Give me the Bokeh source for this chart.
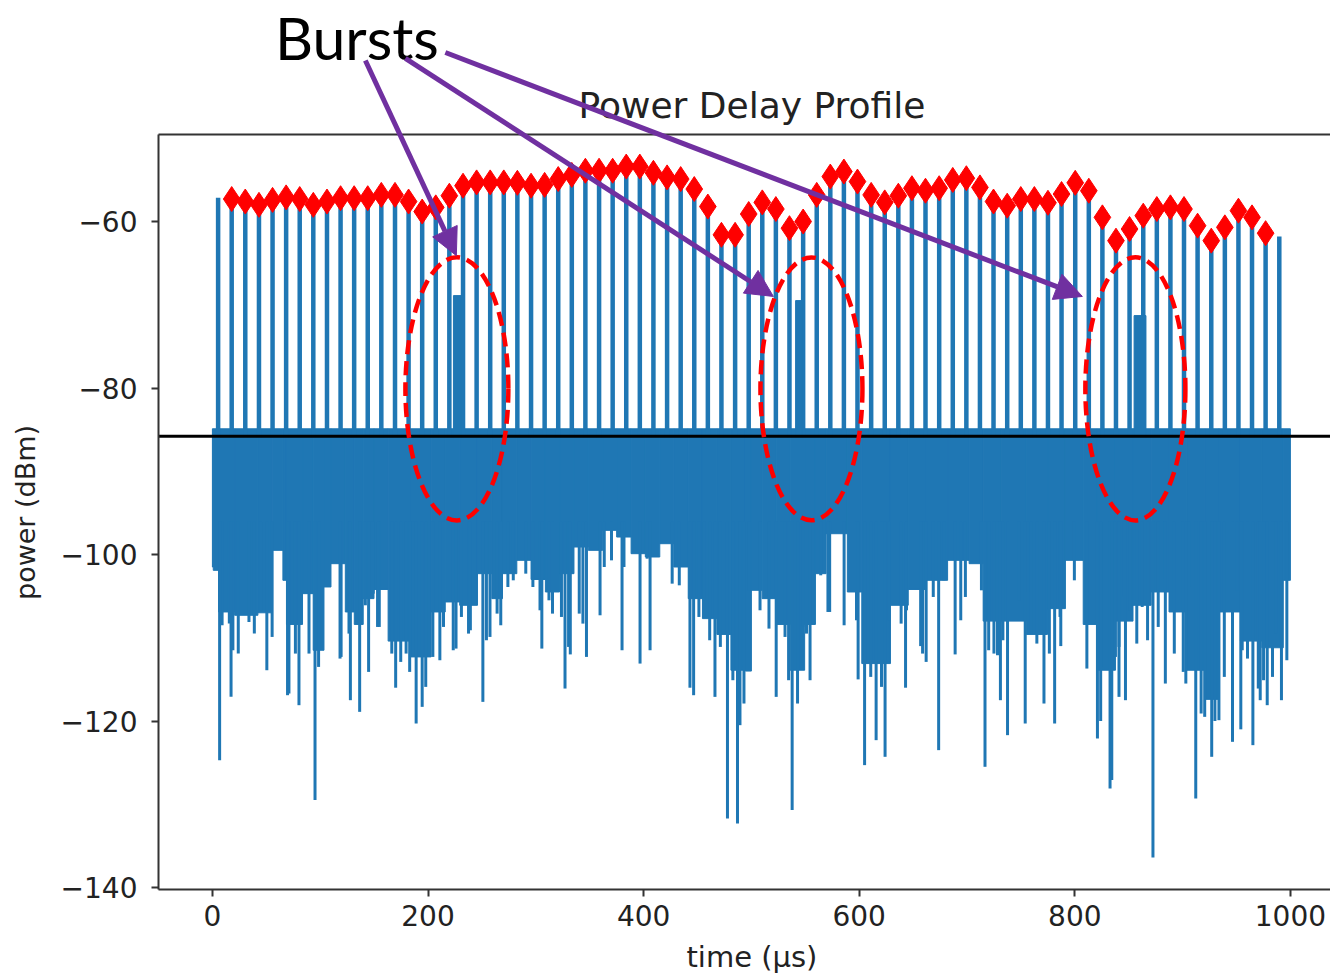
import math
from bokeh.plotting import figure
from bokeh.models import Arrow, NormalHead, Label, FixedTicker, ColumnDataSource
from bokeh.embed import file_html
from bokeh.resources import INLINE

# ---------------- data ----------------
stem_t = [5.3, 17.9, 30.5, 43.2, 55.8, 68.4, 81.0, 93.6, 106.3, 118.9,
          131.5, 144.1, 156.7, 169.4, 182.0, 194.6, 207.2, 219.8, 232.5, 245.1,
          257.7, 270.3, 282.9, 295.6, 308.2, 320.8, 333.4, 346.0, 358.7, 371.3,
          383.9, 396.5, 409.1, 421.8, 434.4, 447.0, 459.6, 472.2, 484.9, 497.5,
          510.1, 522.7, 535.3, 548.0, 560.6, 573.2, 585.8, 598.4, 611.1, 623.7,
          636.3, 648.9, 661.5, 674.2, 686.8, 699.4, 712.0, 724.6, 737.3, 749.9,
          762.5, 775.1, 787.7, 800.4, 813.0, 825.6, 838.2, 850.8, 863.5, 876.1,
          888.7, 901.3, 913.9, 926.6, 939.2, 951.8, 964.4, 977.0, 989.7]
stem_dbm = [-57.15, -57.3, -57.6, -58.0, -57.4, -57.1, -57.3, -58.0, -57.6, -57.2,
            -57.2, -57.2, -56.8, -56.8, -57.6, -58.8, -58.3, -56.9, -55.7, -55.3,
            -55.3, -55.3, -55.35, -55.7, -55.6, -54.9, -54.4, -53.9, -53.9, -53.9,
            -53.4, -53.4, -54.15, -54.7, -54.9, -56.1, -58.2, -61.6, -61.6, -59.1,
            -57.7, -58.5, -60.8, -60.0, -56.8, -54.6, -54.0, -55.2, -56.8, -57.7,
            -56.9, -56.0, -56.3, -56.0, -55.0, -54.8, -55.9, -57.6, -58.1, -57.3,
            -57.3, -57.75, -56.7, -55.35, -56.3, -59.5, -62.3, -60.9, -59.3, -58.5,
            -58.3, -58.5, -60.5, -62.3, -60.7, -58.7, -59.5, -61.4, -61.8]

# noise floor: blocks (start, end, lower edge of the solid part)
floor_t0 = [0, 0.8, 5.7, 20.6, 42.2, 55.4, 65.4, 68.7, 83.6, 93.5, 103.5, 110, 123.3, 131.6,
            139.9, 149.9, 163, 183, 202.9, 216, 229.4, 245.9, 259.2, 269.1, 282.4, 295.6,
            308.9, 322, 335.4, 348.7, 362, 375, 388.4, 401.6, 415, 428, 441.4, 454.6, 468,
            481, 494.4, 500, 510, 523, 536, 549.4, 559.4, 569.3, 589, 602.4, 629, 645.5,
            662, 682, 702, 715, 731.6, 755, 774.7, 791.3, 807.8, 821, 837.7, 854, 870.8,
            887.4, 904, 920.5, 933.8, 953.6, 973.5, 993.4]
floor_t1 = floor_t0[1:] + [1000]
floor_dbm = [-101.5, -101.9, -106.9, -107.3, -107.0, -99.5, -103.1, -108.4, -104.7, -111.5,
             -103.9, -101.1, -106.9, -108.4, -105.3, -104.2, -110.4, -112.3, -106.9, -105.7,
             -106.1, -102.3, -105.3, -102.3, -100.7, -103.0, -104.5, -102.3, -99.1, -99.5,
             -97.1, -97.9, -99.9, -100.3, -98.7, -101.5, -105.3, -107.7, -109.6, -113.9,
             -114.0, -104.3, -105.3, -108.4, -113.9, -108.4, -102.3, -97.5, -104.5, -113.1,
             -106.1, -104.2, -103.1, -100.7, -101.1, -108.0, -108.0, -109.6, -106.5, -100.7,
             -108.4, -113.9, -108.0, -106.1, -104.5, -106.9, -113.9, -117.4, -106.9, -110.4,
             -111.2, -103.1]
floor_top = -84.9

# deep downward spikes (time, dBm)
spike_t = [6.7, 17.3, 24.0, 50.5, 69.7, 80.3, 95.2, 118.4, 128.0, 136.6, 144.9, 153.2,
           170.0, 183.0, 189.0, 194.6, 211.0, 226.0, 239.3, 250.9, 267.5, 305.6, 327.1,
           332.0, 347.0, 359.6, 380.0, 396.7, 406.0, 443.0, 446.4, 466.2, 477.8, 487.1,
           489.4, 523.0, 537.8, 554.4, 571.0, 586.0, 599.0, 605.0, 615.7, 624.0, 643.0,
           657.0, 673.7, 689.0, 694.2, 716.7, 731.0, 737.6, 754.0, 771.4, 781.3, 787.0,
           821.0, 824.0, 832.7, 834.3, 841.0, 847.0, 872.5, 884.0, 900.6, 903.0, 912.2,
           927.0, 930.0, 946.3, 954.0, 965.2, 972.0, 978.5, 991.7]
spike_dbm = [-124.7, -117.1, -111.9, -113.9, -116.9, -118.1, -129.5, -112.5, -117.5, -118.9,
             -114.1, -108.7, -116.0, -114.1, -120.3, -118.3, -112.7, -111.3, -109.1, -117.7,
             -108.5, -111.3, -116.1, -112.0, -112.3, -107.3, -111.5, -113.1, -111.5, -116.0,
             -116.9, -117.1, -131.7, -132.3, -120.5, -117.1, -130.7, -115.1, -106.9, -108.5,
             -115.0, -125.3, -122.3, -124.3, -116.0, -111.0, -123.5, -112.0, -107.9, -125.5,
             -117.5, -121.7, -120.3, -117.9, -120.3, -111.0, -122.1, -120.0, -128.1, -127.1,
             -117.1, -117.5, -136.4, -115.5, -114.1, -115.5, -129.3, -124.3, -120.0, -122.5,
             -121.0, -122.9, -117.5, -118.1, -117.5]

# finer, shallower dips of the noise floor (time, dBm)
dip_t = [9.0, 15.7, 19.0, 33.9, 38.9, 45.5, 55.4, 71.0, 77.0, 89.6, 98.5, 119.4, 126.7,
         141.9, 149.2, 154.8, 166.4, 174.7, 179.7, 186.3, 197.9, 204.5, 214.4, 223.4,
         231.0, 237.6, 254.2, 257.5, 264.1, 274.1, 279.1, 290.7, 297.3, 303.9, 312.2,
         315.5, 323.8, 330.4, 340.3, 343.7, 363.5, 370.2, 381.8, 403.3, 426.5, 433.1,
         451.3, 456.3, 461.3, 471.2, 482.8, 492.7, 493.1, 498.1, 508.0, 516.3, 527.9,
         531.2, 534.5, 542.8, 547.8, 551.1, 564.3, 572.6, 597.5, 610.7, 620.7, 627.3,
         638.9, 643.9, 658.8, 662.1, 668.7, 678.6, 698.5, 713.4, 720.1, 725.0, 728.3,
         733.3, 748.2, 756.5, 759.8, 764.8, 776.4, 786.3, 799.6, 811.2, 824.4, 837.7,
         841.0, 846.0, 850.9, 857.5, 862.5, 867.5, 877.4, 884.0, 892.3, 905.6, 917.2,
         920.5, 933.7, 938.7, 950.3, 955.3, 960.2, 970.2, 975.1, 983.4, 986.7, 996.7]
dip_dbm = [-108.5, -108.3, -111.5, -108.1, -109.5, -106.7, -109.9, -116.7, -111.9, -111.9,
           -113.5, -112.3, -109.5, -106.1, -104.7, -108.7, -111.9, -112.9, -111.9, -112.3,
           -115.9, -112.3, -108.7, -111.5, -107.5, -109.5, -110.3, -109.9, -107.1, -103.9,
           -103.1, -102.3, -103.9, -106.7, -105.5, -107.1, -107.5, -111.1, -107.1, -108.3,
           -101.5, -100.7, -101.5, -100.5, -103.5, -103.7, -107.5, -105.5, -110.3, -111.1,
           -115.1, -113.5, -117.9, -104.3, -106.7, -108.9, -107.9, -109.9, -115.1, -117.9,
           -108.7, -109.5, -102.5, -106.9, -107.9, -114.7, -115.9, -107.9, -108.3, -106.7,
           -111.9, -112.9, -105.1, -103.1, -105.1, -104.3, -111.5, -111.9, -112.1, -110.3,
           -105.5, -104.5, -109.5, -110.7, -111.9, -107.5, -103.1, -113.7, -113.5, -112.3,
           -111.1, -105.1, -106.7, -110.7, -106.3, -110.3, -108.7, -102.9, -111.9, -103.9,
           -119.1, -119.5, -119.9, -114.7, -104.3, -111.5, -112.5, -116.1, -115.1, -114.7,
           -109.5, -112.7]

# burst returns (start, end, peak)
burst_t0 = [223.6, 541.0, 855.0]
burst_t1 = [231.0, 547.0, 866.0]
burst_dbm = [-68.9, -69.5, -71.3]
threshold_dbm = -85.8

x_ticks = [0, 200, 400, 600, 800, 1000]
y_ticks = [-140, -120, -100, -80, -60]

# ---------------- styles / layout ----------------
BLUE = "#1f77b4"
PURPLE = "#7030a0"
RED = "#ff0000"
X_LEFT, X_RIGHT = -50, 1037.2          # visible axes box (time)
Y_BOTTOM, Y_TOP_AXIS = -140.24, -49.55 # visible axes box (power)

# the drawing frame covers the whole canvas, the axes are pinned to the box edges
p = figure(width=1330, height=976, x_range=(-196.57, X_RIGHT), y_range=(-150.69, -33.45),
           output_backend="svg", toolbar_location=None, title=None,
           min_border=0, min_border_left=0, min_border_right=0, min_border_top=0,
           min_border_bottom=0)
p.outline_line_color = None
p.xgrid.visible = False
p.ygrid.visible = False
p.background_fill_color = "white"

# noise floor band
band = ColumnDataSource(dict(left=floor_t0, right=floor_t1, bottom=floor_dbm,
                             top=[floor_top] * len(floor_t0)))
p.quad(left="left", right="right", bottom="bottom", top="top", source=band,
       fill_color=BLUE, line_color=BLUE, line_width=1)

# dips and spikes downwards
p.segment(x0=dip_t, y0=[-96] * len(dip_t), x1=dip_t, y1=dip_dbm,
          line_color=BLUE, line_width=3)
p.segment(x0=spike_t, y0=[-96] * len(spike_t), x1=spike_t, y1=spike_dbm,
          line_color=BLUE, line_width=3)

# periodic stems
p.segment(x0=stem_t, y0=[-86] * len(stem_t), x1=stem_t, y1=stem_dbm,
          line_color=BLUE, line_width=4.5)

# bursts
p.quad(left=burst_t0, right=burst_t1, bottom=[-86] * 3, top=burst_dbm,
       fill_color=BLUE, line_color=BLUE, line_width=1)

# threshold line and top spine (from the left spine to the right edge)
p.segment(x0=[X_LEFT], y0=[threshold_dbm], x1=[X_RIGHT], y1=[threshold_dbm],
          line_color="black", line_width=3)
p.segment(x0=[X_LEFT], y0=[Y_TOP_AXIS], x1=[X_RIGHT], y1=[Y_TOP_AXIS],
          line_color="#333333", line_width=2)

# dashed ellipses around bursts
p.ellipse(x=[226.8, 555.7, 856.2], y=[-80.1, -80.1, -80.1], width=[95.5, 94.6, 92.8],
          height=[31.6, 31.6, 31.6], fill_color=None, line_color=RED, line_width=4.5,
          line_dash="14 7")

# peak markers (peaks exclude the end stems)
p.scatter(x=stem_t[1:-1], y=stem_dbm[1:-1], marker="diamond", size=25,
          fill_color=RED, line_color=RED)

# axes
p.xaxis.ticker = FixedTicker(ticks=x_ticks)
p.yaxis.ticker = FixedTicker(ticks=y_ticks)
p.xaxis.fixed_location = Y_BOTTOM
p.yaxis.fixed_location = X_LEFT
p.xaxis.bounds = (X_LEFT, X_RIGHT)
p.yaxis.bounds = (Y_BOTTOM, Y_TOP_AXIS)
p.yaxis.major_label_overrides = {t: "\u2212" + str(abs(t)) for t in y_ticks}
for ax in (p.xaxis[0], p.yaxis[0]):
    ax.axis_line_color = "#333333"
    ax.axis_line_width = 2
    ax.major_tick_line_color = "#333333"
    ax.major_tick_line_width = 2
    ax.major_tick_out = 7
    ax.major_tick_in = 0
    ax.minor_tick_line_color = None
    ax.major_label_text_font = "DejaVu Sans"
    ax.major_label_text_font_size = "28px"
    ax.major_label_text_color = "#222222"
p.xaxis.major_label_standoff = 8
p.yaxis.major_label_standoff = 14

# axis titles
p.add_layout(Label(x=500.5, y=-148.4, text="time (\u03bcs)", text_align="center",
                   text_baseline="middle", text_font="DejaVu Sans",
                   text_font_size="29px", text_color="#222222"))
p.add_layout(Label(x=-173.5, y=-94.95, text="power (dBm)", text_align="center",
                   text_baseline="middle", angle=math.pi / 2, text_font="DejaVu Sans",
                   text_font_size="27px", text_color="#222222"))

# title and annotation text
p.add_layout(Label(x=500.5, y=-46.1, text="Power Delay Profile", text_align="center",
                   text_baseline="alphabetic", text_font="DejaVu Sans",
                   text_font_size="36px", text_color="#222222"))
p.add_layout(Label(x=58.0, y=-37.9, text="Bursts", text_align="left",
                   text_baseline="alphabetic", text_font="Lato",
                   text_font_size="59px", text_color="black"))

# arrows from the label to the bursts
arrow_start = [(141.9, -40.66), (179.0, -40.4), (216.1, -39.7)]
arrow_end = [(226.3, -64.1), (520.4, -69.0), (807.0, -69.0)]
for (xs, ys), (xe, ye) in zip(arrow_start, arrow_end):
    p.add_layout(Arrow(end=NormalHead(size=27, fill_color=PURPLE, line_color=PURPLE),
                       x_start=xs, y_start=ys, x_end=xe, y_end=ye,
                       line_color=PURPLE, line_width=5))

open("out.html", "w").write(file_html(p, INLINE))
